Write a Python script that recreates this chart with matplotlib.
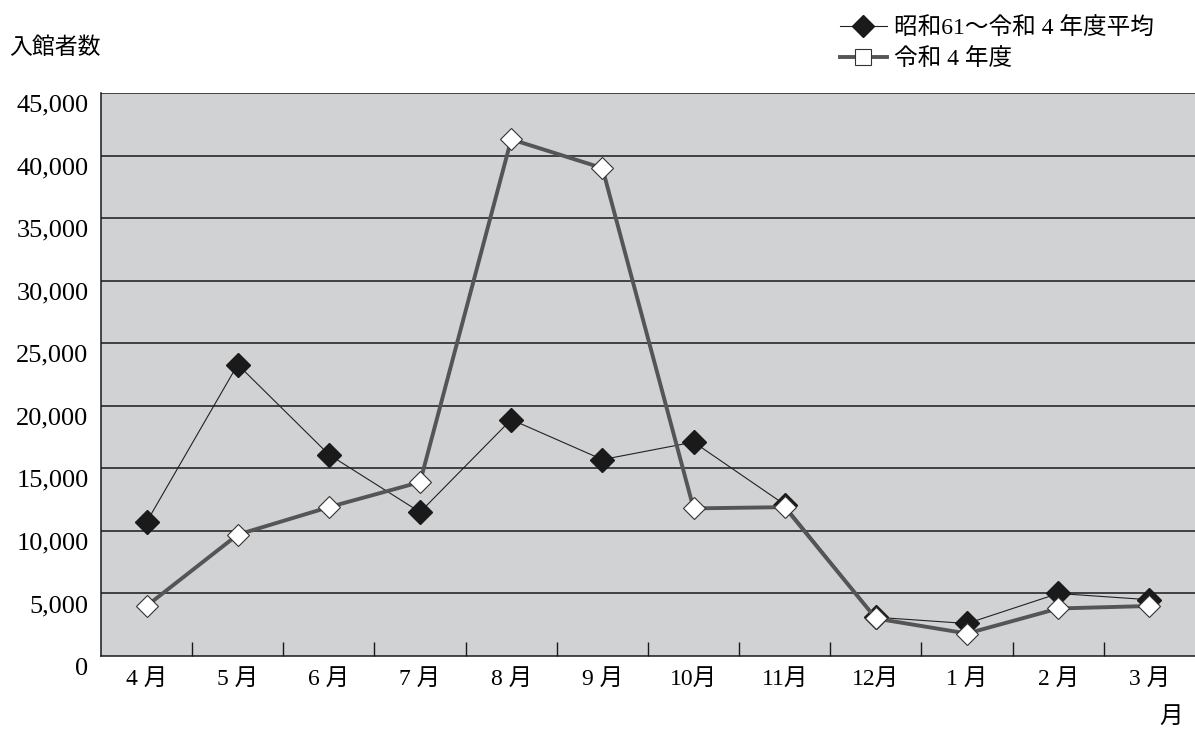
import matplotlib
matplotlib.use("Agg")
import matplotlib.pyplot as plt
import matplotlib.transforms as mtransforms
from matplotlib.lines import Line2D
import numpy as np

plt.rcParams['font.family'] = ['Liberation Serif', 'Noto Sans CJK JP']

# data
months = ['4 月', '5 月', '6 月', '7 月', '8 月', '9 月', '10月', '11月', '12月', '1 月', '2 月', '3 月']
avg_s61_r4 = [10700, 23300, 16100, 11500, 18900, 15700, 17100, 12100, 3100, 2600, 5000, 4500]
r4 = [4000, 9700, 11900, 13900, 41300, 39000, 11800, 11900, 3000, 1800, 3800, 4000]
yticks = [0, 5000, 10000, 15000, 20000, 25000, 30000, 35000, 40000, 45000]

fig = plt.figure(figsize=(11.95, 7.29), dpi=100)
ax = fig.add_axes([0.0845, 0.1001, 0.9155, 0.7723])
ax.set_facecolor('#d1d2d4')

x = np.arange(len(months))

# gridlines
for v in yticks[1:]:
    ax.axhline(v, color='#1a1a1a', lw=1.1, zorder=1)

ax.plot(x, avg_s61_r4, color='#222222', lw=0.8, marker='D', ms=12.5,
        mfc='#1a1a1a', mec='#1a1a1a', zorder=3)
ax.plot(x, r4, color='#555555', lw=2.8, marker='D', ms=11,
        mfc='white', mec='#333333', mew=0.8, zorder=4)

ax.set_xlim(-0.5, 11.5)
ax.set_ylim(0, 45000)

ax.set_xticks(x)
ax.set_xticklabels(months, fontsize=17)
ax.set_xticks(np.arange(0.5, 11.5, 1), minor=True)
ax.tick_params(axis='x', which='major', length=0, pad=9)
ax.tick_params(axis='x', which='minor', direction='in', length=10, width=1, color='#1a1a1a')

ax.set_yticks(yticks)
ax.set_yticklabels([f'{v:,}' for v in yticks], fontsize=19)
ax.tick_params(axis='y', length=0, pad=9)
off = mtransforms.ScaledTranslation(0, -0.1, fig.dpi_scale_trans)
for lab in ax.get_yticklabels():
    lab.set_transform(lab.get_transform() + off)

for s in ['top', 'right']:
    ax.spines[s].set_visible(False)
ax.spines['left'].set_color('#1a1a1a')
ax.spines['bottom'].set_color('#1a1a1a')
ax.spines['left'].set_linewidth(1.1)
ax.spines['bottom'].set_linewidth(1.1)

fig.text(0.008, 0.934, '入館者数', fontsize=16.5, ha='left', va='center')
fig.text(0.99, 0.016, '月', fontsize=17, ha='right', va='center')

handles = [
    Line2D([], [], color='#222222', lw=0.8, marker='D', ms=11, mfc='#1a1a1a', mec='#1a1a1a'),
    Line2D([], [], color='#555555', lw=2.8, marker='s', ms=11, mfc='white', mec='#333333', mew=0.8),
]
fig.legend(handles, ['昭和61～令和 4 年度平均', '令和 4 年度'], loc='upper left',
           bbox_to_anchor=(0.685, 1.005), frameon=False, fontsize=17,
           handlelength=2.0, handletextpad=0.3, labelspacing=0.35)

fig.savefig('out.png', dpi=100)
